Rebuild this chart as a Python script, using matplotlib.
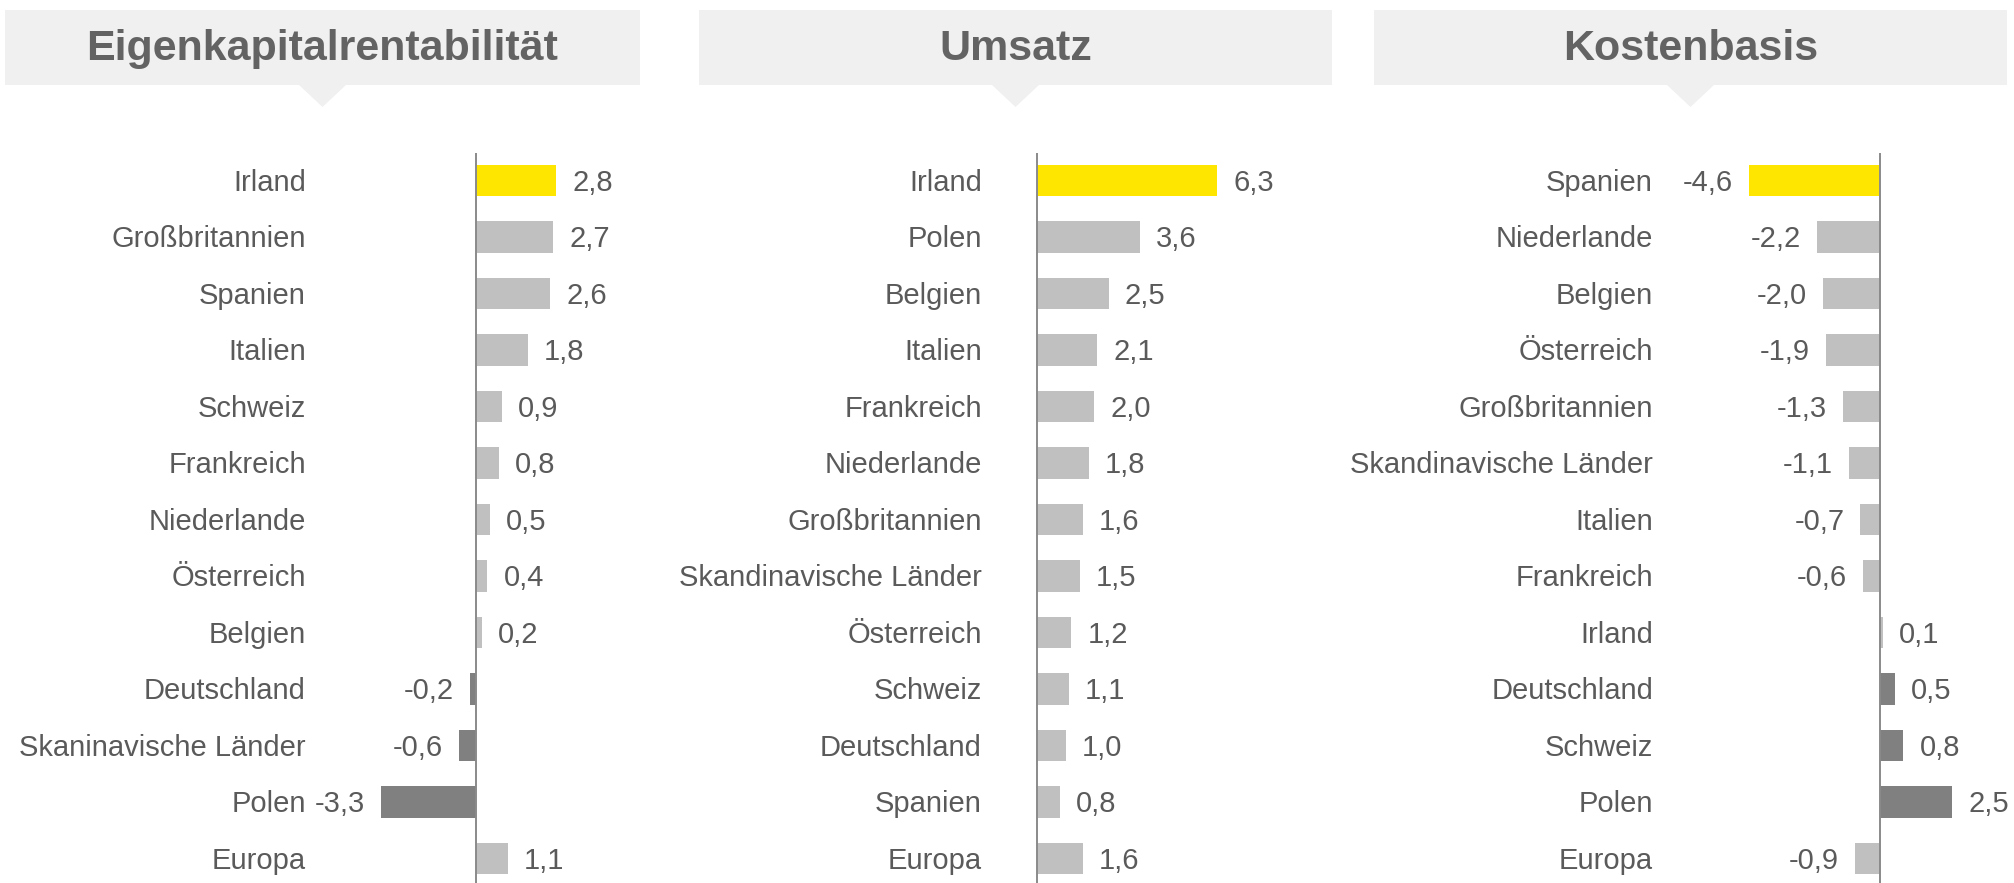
import matplotlib
matplotlib.use("Agg")
import matplotlib.pyplot as plt
from matplotlib.patches import Rectangle, Polygon

# --- data -------------------------------------------------------------
eq_title = "Eigenkapitalrentabilität"
eq_labels = ["Irland", "Großbritannien", "Spanien", "Italien", "Schweiz",
             "Frankreich", "Niederlande", "Österreich", "Belgien",
             "Deutschland", "Skaninavische Länder", "Polen", "Europa"]
eq_values = [2.8, 2.7, 2.6, 1.8, 0.9, 0.8, 0.5, 0.4, 0.2, -0.2, -0.6, -3.3, 1.1]
eq_dark = ["Deutschland", "Skaninavische Länder", "Polen"]

rev_title = "Umsatz"
rev_labels = ["Irland", "Polen", "Belgien", "Italien", "Frankreich",
              "Niederlande", "Großbritannien", "Skandinavische Länder",
              "Österreich", "Schweiz", "Deutschland", "Spanien", "Europa"]
rev_values = [6.3, 3.6, 2.5, 2.1, 2.0, 1.8, 1.6, 1.5, 1.2, 1.1, 1.0, 0.8, 1.6]
rev_dark = []

cost_title = "Kostenbasis"
cost_labels = ["Spanien", "Niederlande", "Belgien", "Österreich",
               "Großbritannien", "Skandinavische Länder", "Italien",
               "Frankreich", "Irland", "Deutschland", "Schweiz", "Polen",
               "Europa"]
cost_values = [-4.6, -2.2, -2.0, -1.9, -1.3, -1.1, -0.7, -0.6, 0.1, 0.5, 0.8,
               2.5, -0.9]
cost_dark = ["Deutschland", "Schweiz", "Polen"]

# --- style ------------------------------------------------------------
YELLOW = "#FFE600"
LIGHT = "#C0C0C0"
DARK = "#808080"
TEXT = "#5a5a5a"
TITLE = "#636363"
BOX = "#F0F0F0"

plt.rcParams["font.family"] = ["Liberation Sans", "DejaVu Sans"]

W, H = 2015, 883
SCALE = 28.65          # pixels per percentage point
ROW0, ROW_STEP = 180.5, 56.5
AX_TOP = 153
BASE_OFF = -7.5        # points from bar centre down to text baseline

fig = plt.figure(figsize=(W / 100, H / 100), dpi=100)

# overlay for the title boxes
bg = fig.add_axes([0, 0, 1, 1])
bg.set_xlim(0, W)
bg.set_ylim(H, 0)
bg.axis("off")


def title_box(x0, x1, text):
    bg.add_patch(Rectangle((x0, 9.5), x1 - x0, 75, color=BOX, lw=0))
    cx = (x0 + x1) / 2
    bg.add_patch(Polygon([(cx - 24, 84.5), (cx + 24, 84.5), (cx, 107)],
                         closed=True, color=BOX, lw=0))
    bg.text(cx, 60, text, ha="center", va="baseline", fontsize=31,
            fontweight="bold", color=TITLE)


def panel(left, right, zero_x, labels, values, dark):
    n = len(values)
    ax = fig.add_axes([left / W, 0, (right - left) / W, (H - AX_TOP) / H])
    ax.set_xlim((left - zero_x) / SCALE, (right - zero_x) / SCALE)
    top_pad = (ROW0 - AX_TOP) / ROW_STEP
    bot_pad = (H - (ROW0 + (n - 1) * ROW_STEP)) / ROW_STEP
    ax.set_ylim(n - 1 + bot_pad, -top_pad)

    colors = []
    for i, lab in enumerate(labels):
        if i == 0:
            colors.append(YELLOW)
        elif lab in dark:
            colors.append(DARK)
        else:
            colors.append(LIGHT)
    ax.barh(range(n), values, height=0.55, color=colors, lw=0, zorder=2)
    ax.axvline(0, color="#8a8a8a", lw=1.4, zorder=3)

    for i, (lab, v) in enumerate(zip(labels, values)):
        # category name, right-aligned at the axes' left edge
        ax.annotate(lab, (0, i), xycoords=("axes fraction", "data"),
                    xytext=(0, BASE_OFF), textcoords="offset points",
                    ha="right", va="baseline", fontsize=21, color=TEXT,
                    annotation_clip=False)
        # value label beside the bar end
        txt = f"{v:.1f}".replace(".", ",")
        off = 11.5 if v >= 0 else -11.5
        ax.annotate(txt, (v, i), xytext=(off, BASE_OFF),
                    textcoords="offset points",
                    ha="left" if v >= 0 else "right", va="baseline",
                    fontsize=21, color=TEXT)

    ax.set_xticks([])
    ax.set_yticks([])
    for s in ax.spines.values():
        s.set_visible(False)
    ax.patch.set_alpha(0)
    return ax


title_box(5, 640, eq_title)
title_box(699, 1332, rev_title)
title_box(1374, 2007, cost_title)

panel(306, 640, 476, eq_labels, eq_values, eq_dark)
panel(982, 1332, 1037, rev_labels, rev_values, rev_dark)
panel(1653, 2007, 1880.5, cost_labels, cost_values, cost_dark)

fig.savefig("out.png", dpi=100)
